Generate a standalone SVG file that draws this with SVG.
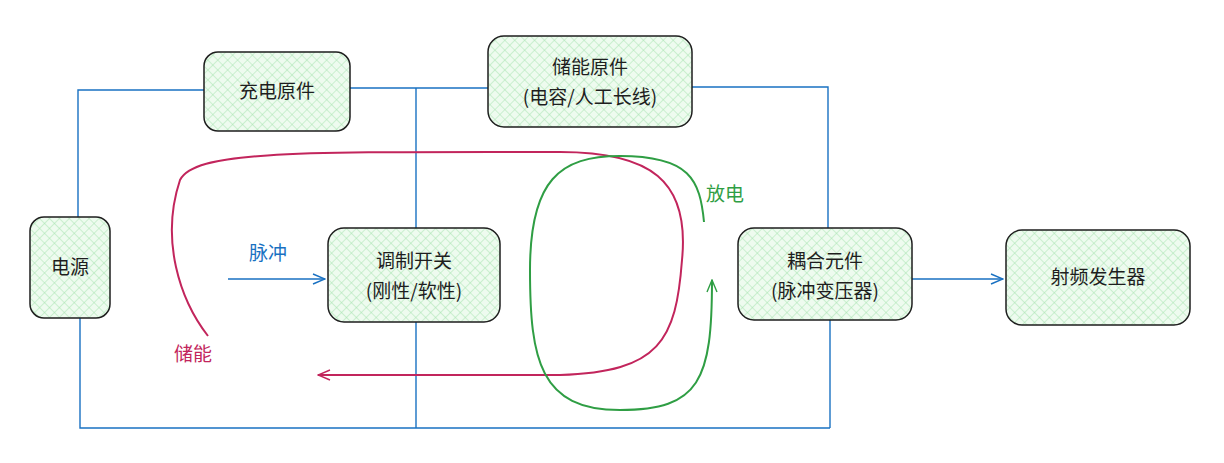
<svg xmlns="http://www.w3.org/2000/svg" width="1224" height="463" viewBox="0 0 1224 463">
<style>
.box{fill:url(#hatch);stroke:#1e1e1e;stroke-width:1.5}
.t{font-family:"Noto Sans CJK SC","Noto Sans",sans-serif;font-size:19px;fill:#1e1e1e;text-anchor:middle}
.wire{fill:none;stroke:#1971c2;stroke-width:1.4}
</style>
<defs>
<pattern id="hatch" width="7" height="7" patternUnits="userSpaceOnUse" patternTransform="rotate(45)">
<rect width="7" height="7" fill="#eefbef"/>
<line x1="0" y1="0" x2="0" y2="7" stroke="#a7e3b0" stroke-width="1"/>
<line x1="0" y1="0" x2="7" y2="0" stroke="#a7e3b0" stroke-width="1"/>
</pattern>
<marker id="ab" markerWidth="14" markerHeight="12" refX="13" refY="6" orient="auto" markerUnits="userSpaceOnUse"><path d="M1,1 L13,6 L1,11" fill="none" stroke="#1971c2" stroke-width="1.4"/></marker>
<marker id="ar" markerWidth="14" markerHeight="12" refX="13" refY="6" orient="auto" markerUnits="userSpaceOnUse"><path d="M1,1 L13,6 L1,11" fill="none" stroke="#c2255c" stroke-width="1.4"/></marker>
<marker id="ag" markerWidth="14" markerHeight="12" refX="13" refY="6" orient="auto" markerUnits="userSpaceOnUse"><path d="M1,1 L13,6 L1,11" fill="none" stroke="#2f9e44" stroke-width="1.4"/></marker>
</defs>
<g id="connectors">
<path class="wire" d="M204,90 L78,90 L78,217"/>
<path class="wire" d="M350,88 L488,88"/>
<path class="wire" d="M692,87 L828,87 L828,228"/>
<path class="wire" d="M416,88 L416,228"/>
<path class="wire" d="M80,318 L80,428 L830,428"/>
<path class="wire" d="M416,322 L416,428"/>
<path class="wire" d="M830,320 L830,428"/>
<path class="wire" d="M912,279 L1003,279" marker-end="url(#ab)"/>
<path class="wire" d="M228,279 L325,279" marker-end="url(#ab)"/>
<path d="M208,336 C180,300 160,240 180,180 C195,150 300,152 560,152 C650,152 690,180 682,260 C676,340 660,372 560,375 L318,375" fill="none" stroke="#c2255c" stroke-width="2" marker-end="url(#ar)"/>
<path d="M704,222 C700,180 690,156 620,156 C560,156 530,180 530,270 C530,360 540,410 620,410 C700,410 712,380 712,280" fill="none" stroke="#2f9e44" stroke-width="2" marker-end="url(#ag)"/>
<text x="268" y="260" class="t" style="fill:#1971c2">脉冲</text>
<text x="193" y="361" class="t" style="fill:#c2255c">储能</text>
<text x="725" y="201" class="t" style="fill:#2f9e44">放电</text>
</g>
<g id="n-power"><rect class="box" x="30" y="217" width="80" height="101" rx="14"/><text class="t" x="70" y="274">电源</text></g>
<g id="n-charge"><rect class="box" x="204" y="52" width="146" height="79" rx="14"/><text class="t" x="277" y="98">充电原件</text></g>
<g id="n-store"><rect class="box" x="488" y="36" width="204" height="91" rx="16"/><text class="t" x="590" y="74">储能原件</text><text class="t" x="590" y="104">(电容/人工长线)</text></g>
<g id="n-switch"><rect class="box" x="328" y="228" width="172" height="94" rx="16"/><text class="t" x="414" y="268">调制开关</text><text class="t" x="414" y="298">(刚性/软性)</text></g>
<g id="n-couple"><rect class="box" x="738" y="228" width="174" height="92" rx="16"/><text class="t" x="825" y="268">耦合元件</text><text class="t" x="825" y="298">(脉冲变压器)</text></g>
<g id="n-rf"><rect class="box" x="1006" y="230" width="184" height="95" rx="16"/><text class="t" x="1098" y="284">射频发生器</text></g>
</svg>
